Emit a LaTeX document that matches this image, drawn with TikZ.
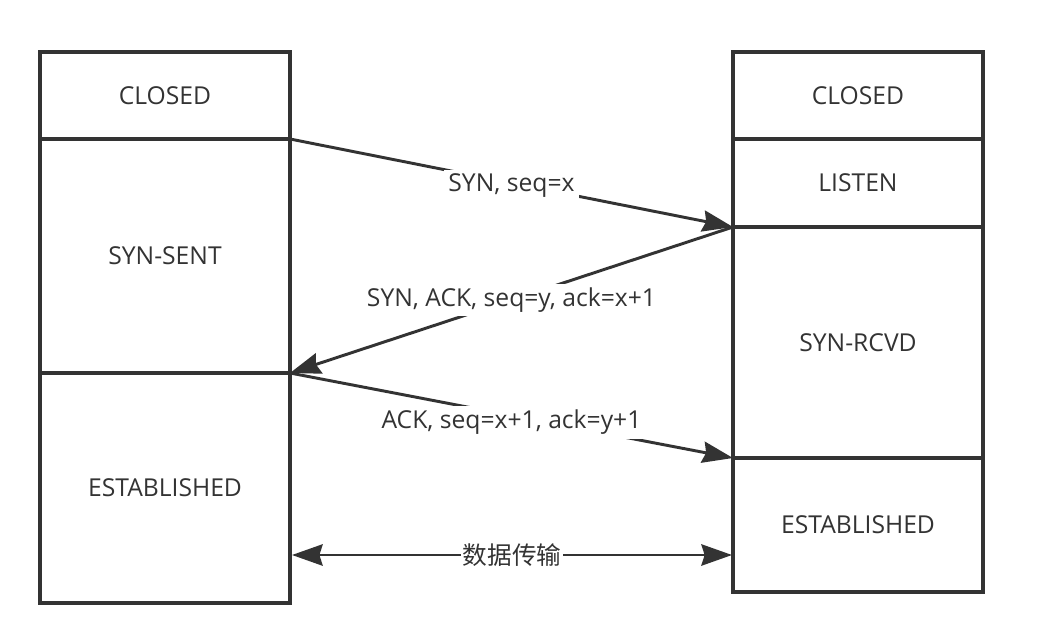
\documentclass[tikz,border=0pt]{standalone}
\usepackage{fontspec}
\setmainfont{Open Sans}
\newfontfamily\cjk{Noto Sans CJK SC}
\usetikzlibrary{arrows.meta}
\definecolor{ink}{HTML}{333333}
\begin{document}
\begin{tikzpicture}[x=0.75pt,y=-0.75pt,
  state/.style={draw=ink, line width=2.4pt, minimum width=187.5pt, inner sep=0pt, outer sep=0pt,
    font=\fontsize{18.5}{22}\selectfont, text=ink},
  tip/.style={Stealth[length=23pt,width=16pt,inset=2.5pt]},
  msg/.style={draw=ink, line width=2.2pt, -{Stealth[length=23pt,width=16pt,inset=2.5pt]}},
  both/.style={draw=ink, line width=2.2pt, {Stealth[length=23pt,width=16pt,inset=2.5pt]}-{Stealth[length=23pt,width=16pt,inset=2.5pt]}},
  lbl/.style={fill=white, text=ink, inner sep=3pt, font=\fontsize{18.5}{22}\selectfont}]
\useasboundingbox[fill=white] (0,0) rectangle (1051,642);
% left column
\node[state, minimum height=65.25pt] (lclosed) at (165,95.5) {CLOSED};
\node[state, minimum height=175.5pt] (synsent) at (165,256) {SYN-SENT};
\node[state, minimum height=172.5pt] (lest) at (165,488) {ESTABLISHED};
% right column
\node[state, minimum height=65.25pt] (rclosed) at (858,95.5) {CLOSED};
\node[state, minimum height=66pt] (listen) at (858,183) {LISTEN};
\node[state, minimum height=173.25pt] (rcvd) at (858,342.5) {SYN-RCVD};
\node[state, minimum height=100.5pt] (rest) at (858,525) {ESTABLISHED};
% messages
\draw[msg] (lclosed.south east) -- node[lbl, yshift=-2pt] {SYN, seq=x} (listen.south west);
\draw[msg] (listen.south west) -- node[lbl] {SYN, ACK, seq=y, ack=x+1} (synsent.south east);
\draw[msg] (synsent.south east) -- node[lbl, yshift=-5pt] {ACK, seq=x+1, ack=y+1} (rcvd.south west);
\coordinate (dl) at (292,555);
\coordinate (dr) at (732,555);
\draw[both] (dl) -- node[lbl, inner sep=1pt] {\cjk 数据传输} (dr);
\end{tikzpicture}
\end{document}
